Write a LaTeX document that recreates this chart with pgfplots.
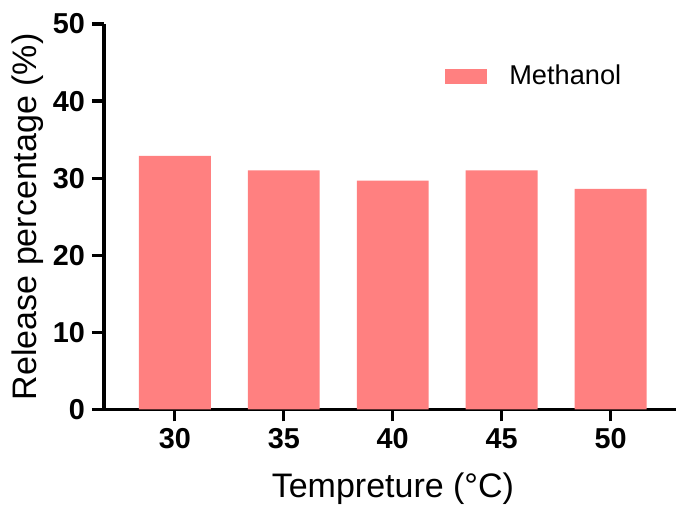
\documentclass[border=0pt]{standalone}
\usepackage{fontspec}
\setmainfont{Liberation Sans}
\usepackage{pgfplots}
\pgfplotsset{compat=1.18}

\definecolor{barpink}{RGB}{255,128,128}

\begin{document}
\begin{tikzpicture}
\useasboundingbox (-52pt,-49.25pt) rectangle (286pt,204.75pt);
\begin{axis}[
    at={(0,0)}, anchor=south west,
    scale only axis,
    width=286pt, height=192.75pt,
    ybar,
    bar width=0.66,
    xmin=-0.65, xmax=4.6,
    ymin=0, ymax=50,
    xtick=data,
    xticklabels={30,35,40,45,50},
    ytick={0,10,...,50},
    axis x line=bottom, axis y line=left,
    axis line style={-, line width=1.6pt},
    tick style={line width=1.6pt, black},
    tick align=outside,
    major tick length=6pt,
    /pgf/number format/assume math mode=true,
    ticklabel style={font=\fontsize{14.4}{16}\selectfont\bfseries},
    xlabel={Tempreture (°C)},
    ylabel={Release percentage (\%)},
    label style={font=\fontsize{17}{20}\selectfont},
    xlabel style={at={(axis description cs:0.505,-0.205)}, anchor=center},
    ylabel style={at={(axis description cs:-0.133,0.5)}, anchor=center},
    legend style={at={(rel axis cs:0.596,0.864)}, anchor=west, draw=none, fill=none,
        font=\fontsize{13.6}{16}\selectfont, inner sep=0pt,
        /tikz/every odd column/.append style={column sep=9pt}},
    legend image code/.code={\fill[barpink] (0pt,-3.75pt) rectangle (21pt,3.75pt);},
]
\addplot[fill=barpink, draw=none] coordinates {
    (0,32.9)
    (1,31.0)
    (2,29.7)
    (3,31.0)
    (4,28.6)
};
\addlegendentry{Methanol}
\end{axis}
\end{tikzpicture}
\end{document}
